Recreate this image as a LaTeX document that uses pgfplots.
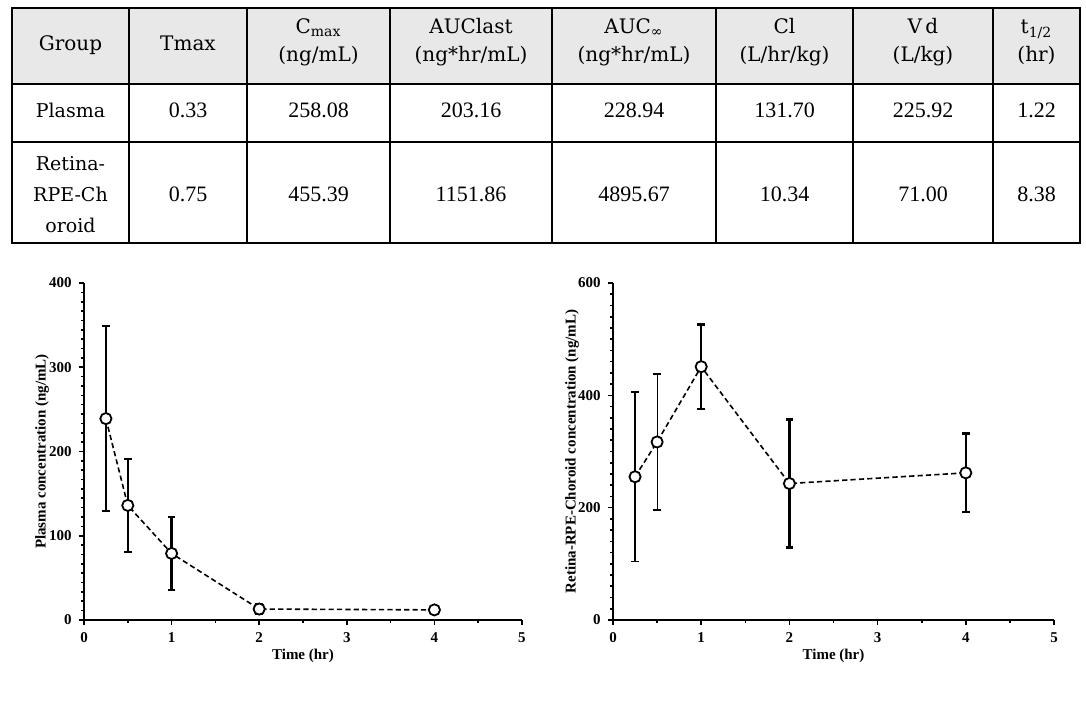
\documentclass[border=0pt]{standalone}
\usepackage{fontspec}
\setmainfont{Liberation Serif}
\newfontfamily\dejaserif{DejaVu Serif}
\usepackage{pgfplots}
\pgfplotsset{compat=1.18}

\pgfplotsset{
  pkaxis/.style={
    scale only axis,
    height=168.5pt,
    xmin=0, xmax=5, ymin=0,
    axis lines=left,
    axis line style={line width=1pt,-},
    tick align=outside,
    major tick length=2.6pt,
    minor tick length=1.5pt,
    tick style={line width=0.8pt,black},
    xtick={0,1,2,3,4,5},
    minor x tick num=1,
    /pgf/number format/assume math mode=true,
    ticklabel style={font=\bfseries\fontsize{7.5}{8}\selectfont},
    label style={font=\bfseries\fontsize{7.5}{9}\selectfont},
    xlabel={Time (hr)},
    xlabel style={at={(axis description cs:0.5,0)},anchor=center,yshift=-18pt},
    clip=false,
  },
  ebar/.style={draw=none,mark=none,forget plot,
    error bars/.cd,y dir=both,y explicit,
    error bar style={solid,line width=#1,black},
    error mark options={rotate=90,mark size=1.9pt,line width=#1,black}},
  pkline/.style={black,dash pattern=on 2.6pt off 1.6pt,line width=0.8pt,
    mark=*,mark size=2.8pt,mark options={solid,fill=white,draw=black,line width=0.9pt}},
}

\begin{document}
\begin{tikzpicture}
\path[use as bounding box] (0,0) rectangle (543pt,355pt);

% summary table
\fill[black!9] (6pt,351pt) rectangle (540pt,313pt);
\draw[line width=0.6pt] (6pt,351pt) rectangle (540pt,233.5pt);
\draw[line width=0.6pt] (6pt,313pt) -- (540pt,313pt);
\draw[line width=0.6pt] (6pt,284pt) -- (540pt,284pt);
\foreach \cx in {64.5,123.5,195,276,358,426.5,496.5}
  \draw[line width=0.6pt] (\cx pt,351pt) -- (\cx pt,233.5pt);

\begin{scope}[every node/.style={inner sep=0pt,text height=7pt,text depth=2pt,
    font=\dejaserif\fontsize{10}{12}\selectfont}]
\node at (35.25pt,332pt) {Group};
\node at (94pt,332pt) {Tmax};
\node at (159.25pt,340.5pt) {C\textsubscript{max}};
\node at (159.25pt,326.5pt) {(ng/mL)};
\node at (235.5pt,340.5pt) {AUClast};
\node at (235.5pt,326.5pt) {(ng*hr/mL)};
\node at (317pt,340.5pt) {AUC\textsubscript{∞}};
\node at (317pt,326.5pt) {(ng*hr/mL)};
\node at (392.25pt,340.5pt) {Cl};
\node at (392.25pt,326.5pt) {(L/hr/kg)};
\node at (461.5pt,340.5pt) {V\,d};
\node at (461.5pt,326.5pt) {(L/kg)};
\node at (518.25pt,340.5pt) {t\textsubscript{1/2}};
\node at (518.25pt,326.5pt) {(hr)};
\node[font=\dejaserif\fontsize{9.5}{11}\selectfont] at (35.25pt,298.5pt) {Plasma};
\node[font=\dejaserif\fontsize{9.5}{11}\selectfont] at (35.25pt,272pt) {Retina-};
\node[font=\dejaserif\fontsize{9.5}{11}\selectfont] at (35.25pt,256.5pt) {RPE-Ch};
\node[font=\dejaserif\fontsize{9.5}{11}\selectfont] at (35.25pt,241pt) {oroid};
\end{scope}

\begin{scope}[every node/.style={inner sep=0pt,text height=7pt,text depth=2pt,
    font=\fontsize{11}{13}\selectfont}]
\node at (94pt,298.5pt) {0.33};
\node at (159.25pt,298.5pt) {258.08};
\node at (235.5pt,298.5pt) {203.16};
\node at (317pt,298.5pt) {228.94};
\node at (392.25pt,298.5pt) {131.70};
\node at (461.5pt,298.5pt) {225.92};
\node at (518.25pt,298.5pt) {1.22};
\node at (94pt,256.5pt) {0.75};
\node at (159.25pt,256.5pt) {455.39};
\node at (235.5pt,256.5pt) {1151.86};
\node at (317pt,256.5pt) {4895.67};
\node at (392.25pt,256.5pt) {10.34};
\node at (461.5pt,256.5pt) {71.00};
\node at (518.25pt,256.5pt) {8.38};
\end{scope}

% plasma profile
\begin{axis}[pkaxis,
  at={(42pt,45pt)}, anchor=south west,
  width=219pt,
  ymax=400, ytick={0,100,200,300,400}, minor y tick num=8,
  ylabel={Plasma concentration (ng/mL)},
  ylabel style={at={([xshift=-21pt]axis description cs:0,0.5)},anchor=center},
]
\addplot[ebar=1.1pt] coordinates {
(0.25,239) +- (0,110)
(0.5,136) +- (0,55)
(1,79) +- (0,43)
(2,13) +- (0,6)
(4,12) +- (0,5)
};
\addplot[pkline] coordinates {
(0.25,239) (0.5,136) (1,79) (2,13) (4,12)
};
\end{axis}

% retina-RPE-choroid profile
\begin{axis}[pkaxis,
  at={(306.5pt,45pt)}, anchor=south west,
  width=220.5pt,
  ymax=600, ytick={0,200,400,600}, minor y tick num=9,
  ylabel={Retina-RPE-Choroid concentration (ng/mL)},
  ylabel style={at={([xshift=-20.5pt]axis description cs:0,0.5)},anchor=center},
]
\addplot[ebar=0.6pt] coordinates {
(0.25,255) +- (0,151)
(0.5,317) +- (0,121)
};
\addplot[ebar=1.1pt] coordinates {
(1,451) +- (0,75)
(2,243) +- (0,114)
(4,262) +- (0,70)
};
\addplot[pkline] coordinates {
(0.25,255) (0.5,317) (1,451) (2,243) (4,262)
};
\end{axis}
\end{tikzpicture}
\end{document}
